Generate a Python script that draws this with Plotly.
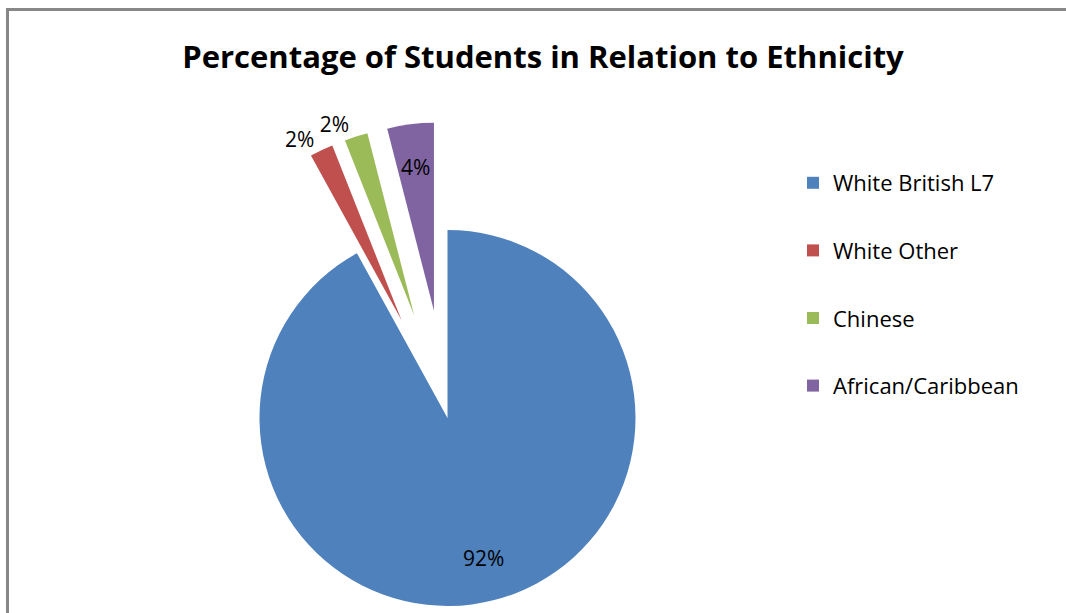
import math
import plotly.graph_objects as go

# ---- data ----
categories = ["White British L7", "White Other", "Chinese", "African/Caribbean"]
percentages = [92, 2, 2, 4]
colors = ["#4F81BD", "#C0504D", "#9BBB59", "#8064A2"]
exploded = [False, True, True, True]
label_positions = ["inside", "outside", "outside", "inside"]

title_text = "Percentage of Students in Relation to Ethnicity"

# ---- layout geometry (pixels) ----
W, H = 1066, 613
CX, CY, R = 447.5, 418.0, 188.0
PULL_PX = 108.0
INSIDE_LABEL_R = 0.77
FONT = "Open Sans"

fig = go.Figure()
annotations = []

total = float(sum(percentages))
cum = 0.0
for i, (cat, val) in enumerate(zip(categories, percentages)):
    start = cum / total * 360.0
    cum += val
    end = cum / total * 360.0
    mid = math.radians((start + end) / 2.0)
    dx, dy = 0.0, 0.0
    if exploded[i]:
        dx = PULL_PX * math.sin(mid)
        dy = -PULL_PX * math.cos(mid)
    cx, cy = CX + dx, CY + dy
    dom_x = [(cx - R) / W, (cx + R) / W]
    dom_y = [1 - (cy + R) / H, 1 - (cy - R) / H]
    mcolors = [colors[j] if j == i else "rgba(0,0,0,0)" for j in range(len(categories))]
    outside = label_positions[i] == "outside"
    ttemp = ["%{percent}" if (j == i and outside) else "" for j in range(len(categories))]
    fig.add_trace(go.Pie(
        labels=categories,
        values=percentages,
        sort=False,
        direction="clockwise",
        rotation=0,
        domain=dict(x=dom_x, y=dom_y),
        marker=dict(colors=mcolors, line=dict(width=0)),
        texttemplate=ttemp,
        textposition="outside",
        textfont=dict(family=FONT, size=21, color="black"),
        showlegend=False,
        hoverinfo="label+percent",
    ))
    if not outside:
        lx = cx + INSIDE_LABEL_R * R * math.sin(mid)
        ly = cy - INSIDE_LABEL_R * R * math.cos(mid)
        annotations.append(dict(
            x=lx / W, y=1 - ly / H, xref="paper", yref="paper",
            text="%d%%" % round(val / total * 100), showarrow=False,
            xanchor="center", yanchor="middle",
            font=dict(family=FONT, size=21, color="black"),
        ))

# legend entries
for cat, c in zip(categories, colors):
    fig.add_trace(go.Scatter(
        x=[None], y=[None], mode="markers",
        marker=dict(symbol="square", size=16, color=c),
        name=cat, legendgroup=cat, showlegend=True,
    ))

fig.update_layout(
    width=W, height=H,
    margin=dict(l=0, r=0, t=0, b=0),
    paper_bgcolor="white", plot_bgcolor="white",
    xaxis=dict(visible=False), yaxis=dict(visible=False),
    title=dict(text="<b>" + title_text + "</b>", x=543 / W, xanchor="center",
               y=1 - 57 / H, yanchor="middle", yref="paper", xref="paper",
               font=dict(family=FONT, size=31, color="black")),
    legend=dict(x=793 / W, xanchor="left", y=1 - 162 / H, yanchor="top",
                font=dict(family=FONT, size=22, color="black"),
                tracegroupgap=36, itemsizing="constant",
                bgcolor="rgba(0,0,0,0)"),
    annotations=annotations,
    shapes=[
        dict(type="line", xref="paper", yref="paper", x0=7.5 / W, x1=7.5 / W,
             y0=-0.1, y1=1 - 9.5 / H, line=dict(color="#878787", width=3)),
        dict(type="line", xref="paper", yref="paper", x0=6 / W, x1=1.1,
             y0=1 - 9.5 / H, y1=1 - 9.5 / H, line=dict(color="#878787", width=3)),
    ],
)

fig.write_html("out.html")
